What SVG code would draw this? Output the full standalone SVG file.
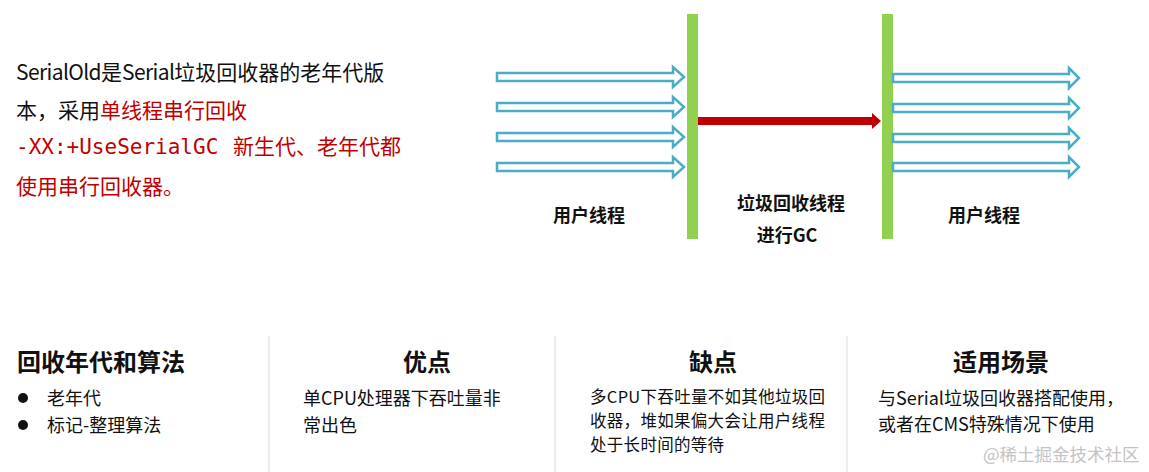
<svg xmlns="http://www.w3.org/2000/svg" width="1149" height="472" viewBox="0 0 1149 472">
  <style>
    text { font-family: "Noto Sans CJK SC", "Noto Sans", sans-serif; }
    .body { font-size: 21px; fill: #111; }
    .red { fill: #C00000; }
    .lat { letter-spacing: -0.6px; }
    .mono { font-family: "DejaVu Sans Mono", "Liberation Mono", monospace; }
    .lbl { font-size: 18px; font-weight: bold; fill: #111; }
    .head { font-size: 24px; font-weight: bold; fill: #111; }
    .item { font-size: 18px; fill: #111; }
    .small { font-size: 16.5px; letter-spacing: 0.3px; }
    .bar { fill: #92D050; }
    .thread { fill: #fff; stroke: #4BACC6; stroke-width: 2.5; stroke-linejoin: miter; }
    .div { stroke: #E6E6E6; stroke-width: 1.5; }
    .wm { font-size: 17.5px; fill: #C4C4C4; }
  </style>
  <defs>
    <path id="hollowL" d="M0,-4 H176 V-10 L187,0 L176,10 V4 H0 Z"/>
    <path id="hollowR" d="M0,-4 H176 V-10 L186,0 L176,10 V4 H0 Z"/>
  </defs>
  <rect width="1149" height="472" fill="#fff"/>

  <g id="intro">
    <text class="body" x="16" y="80"><tspan class="lat">SerialOld</tspan>是<tspan class="lat">Serial</tspan>垃圾回收器的老年代版</text>
    <text class="body" x="16" y="118">本，采用<tspan class="red">单线程串行回收</tspan></text>
    <text class="body red" y="154"><tspan class="mono" x="16">-XX:+UseSerialGC</tspan><tspan x="233">新生代、老年代都</tspan></text>
    <text class="body red" x="16" y="194">使用串行回收器。</text>
  </g>

  <g id="safepoint-1"><rect class="bar" x="687" y="14" width="11" height="225"/></g>
  <g id="safepoint-2"><rect class="bar" x="882" y="14" width="11" height="225"/></g>

  <g id="connectors">
    <g id="user-threads-before">
      <use href="#hollowL" class="thread" x="497" y="77"/>
      <use href="#hollowL" class="thread" x="497" y="107"/>
      <use href="#hollowL" class="thread" x="497" y="137"/>
      <use href="#hollowL" class="thread" x="497" y="167"/>
    </g>
    <g id="gc-thread">
      <path d="M698,117 H872 V113 L881,121 L872,129 V125 H698 Z" fill="#C00000"/>
    </g>
    <g id="user-threads-after">
      <use href="#hollowR" class="thread" x="893" y="78"/>
      <use href="#hollowR" class="thread" x="893" y="108"/>
      <use href="#hollowR" class="thread" x="893" y="138"/>
      <use href="#hollowR" class="thread" x="893" y="167"/>
    </g>
  </g>

  <g id="label-user-1"><text class="lbl" x="589" y="222" text-anchor="middle">用户线程</text></g>
  <g id="label-gc">
    <text class="lbl" x="791" y="210" text-anchor="middle">垃圾回收线程</text>
    <text class="lbl" x="787" y="242" text-anchor="middle">进行GC</text>
  </g>
  <g id="label-user-2"><text class="lbl" x="984" y="222" text-anchor="middle">用户线程</text></g>

  <g id="dividers">
    <line class="div" x1="269" y1="336" x2="269" y2="472"/>
    <line class="div" x1="555" y1="336" x2="555" y2="472"/>
    <line class="div" x1="847" y1="336" x2="847" y2="472"/>
  </g>

  <g id="col-generation">
    <text class="head" x="17" y="371">回收年代和算法</text>
    <circle cx="23" cy="398" r="5" fill="#111"/>
    <text class="item" x="47" y="405">老年代</text>
    <circle cx="23" cy="425" r="5" fill="#111"/>
    <text class="item" x="47" y="432">标记-整理算法</text>
  </g>

  <g id="col-pros">
    <text class="head" x="427" y="371" text-anchor="middle">优点</text>
    <text class="item" x="303" y="405">单CPU处理器下吞吐量非</text>
    <text class="item" x="303" y="432">常出色</text>
  </g>

  <g id="col-cons">
    <text class="head" x="713" y="371" text-anchor="middle">缺点</text>
    <text class="item small" x="590" y="403">多CPU下吞吐量不如其他垃圾回</text>
    <text class="item small" x="590" y="427">收器，堆如果偏大会让用户线程</text>
    <text class="item small" x="590" y="451">处于长时间的等待</text>
  </g>

  <g id="col-usage">
    <text class="head" x="1001" y="371" text-anchor="middle">适用场景</text>
    <text class="item" x="878" y="405">与Serial垃圾回收器搭配使用，</text>
    <text class="item" x="878" y="431">或者在CMS特殊情况下使用</text>
  </g>

  <text class="wm" x="983" y="461">@稀土掘金技术社区</text>
</svg>
